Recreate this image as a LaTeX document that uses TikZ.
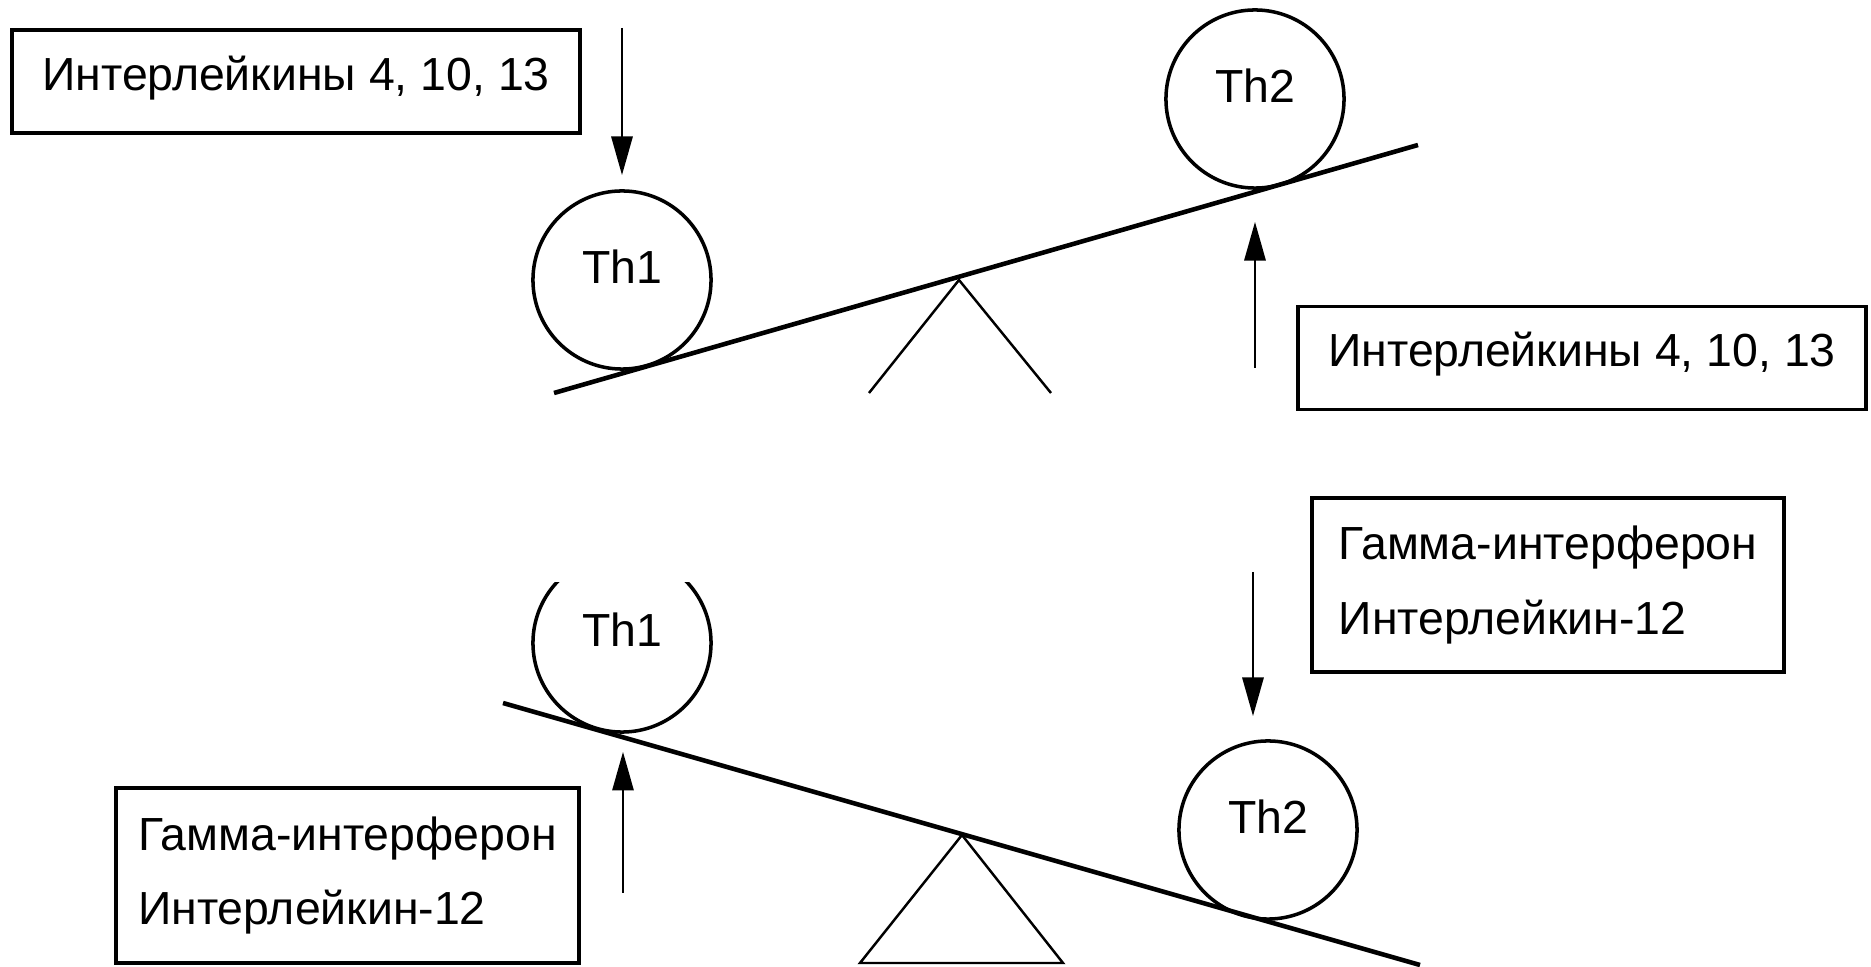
\documentclass[tikz,border=0pt]{standalone}
\usepackage{fontspec}
\setmainfont{Liberation Sans}
\usetikzlibrary{arrows.meta}
\newcommand\boxfnt{\fontsize{13.2pt}{21.3pt}\selectfont}
\newcommand\thfnt{\fontsize{13.2pt}{15pt}\selectfont}
\begin{document}
\begin{tikzpicture}[x=0.01cm,y=-0.01cm,
  cell/.style={circle,draw,line width=1pt,minimum size=1.78cm,inner sep=0pt,font=\thfnt,text height=9.4pt,text depth=7.2pt},
  onebox/.style={draw,line width=1.1pt,minimum width=5.68cm,minimum height=1.03cm,inner sep=0pt,font=\boxfnt,text height=9.5pt,text depth=4.4pt},
  twobox/.style={draw,line width=1.1pt,inner sep=0pt,align=left,font=\boxfnt},
  beam/.style={line width=1.3pt},
  prop/.style={line width=0.7pt},
  arr/.style={line width=0.8pt,-{Triangle[length=11pt,width=6pt]}}]
\useasboundingbox (0,0) rectangle (1871,967);

% ---------- upper panel ----------
\node[onebox] (il1) at (296,81.5) {Интерлейкины 4, 10, 13};
\node[onebox] (il2) at (1582,358) {Интерлейкины 4, 10, 13};
\node[cell] (th1a) at (622,280) {Th1};
\node[cell] (th2a) at (1255,99) {Th2};
\coordinate (b1l) at (554,393);
\coordinate (b1r) at (1418,145);
\draw[beam] (b1l) -- (b1r);
\coordinate (p1a) at (959,280);
\coordinate (p1l) at (869,393);
\coordinate (p1r) at (1051,393);
\draw[prop] (p1l) -- (p1a) -- (p1r);
\coordinate (a1s) at (622,28);
\coordinate (a2s) at (1255,368);
\draw[arr, shorten >=0.14cm] (a1s) -- (a1s |- th1a.north);
\draw[arr, shorten >=0.32cm] (a2s) -- (a2s |- th2a.south);

% ---------- lower panel ----------
\node[twobox, minimum width=4.72cm, minimum height=1.74cm] (gi2) at (1548,585) {Гамма-интерферон\\Интерлейкин-12};
\node[twobox, minimum width=4.63cm, minimum height=1.75cm] (gi1) at (347.5,875.5) {Гамма-интерферон\\Интерлейкин-12};
\begin{scope}
  \clip (480,583) rectangle (780,780);
  \node[cell] (th1b) at (622,643) {Th1};
\end{scope}
\node[cell] (th2b) at (1268,830) {Th2};
\coordinate (b2l) at (503,703);
\coordinate (b2r) at (1420,965);
\draw[beam] (b2l) -- (b2r);
\coordinate (p2a) at (962,835);
\coordinate (p2l) at (860,963);
\coordinate (p2r) at (1063,963);
\draw[prop] (p2l) -- (p2a) -- (p2r) -- cycle;
\coordinate (a3s) at (1253,572);
\coordinate (a4s) at (623,893);
\draw[arr, shorten >=0.23cm] (a3s) -- (a3s |- th2b.north);
\draw[arr, shorten >=0.18cm] (a4s) -- (a4s |- th1b.south);
\end{tikzpicture}
\end{document}
